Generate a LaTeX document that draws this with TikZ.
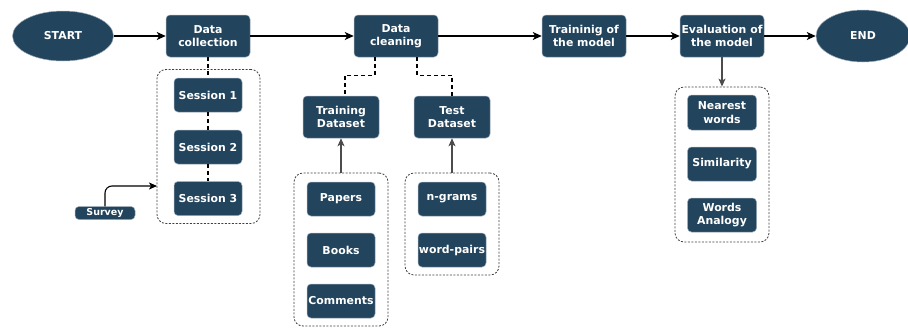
\documentclass[tikz,border=0pt]{standalone}
\usepackage{fontspec}
\setmainfont{DejaVu Sans}
\usetikzlibrary{shapes.geometric,arrows.meta,calc}
\definecolor{navy}{HTML}{23445D}
\definecolor{rim}{HTML}{9AAAB8}
\begin{document}
\begin{tikzpicture}[x=1pt,y=-1pt,
  txt/.style={font=\fontsize{10.9}{13.5}\selectfont\bfseries, text=white, align=center},
  box/.style={txt, rectangle, rounded corners=4pt, fill=navy, draw=rim, line width=0.5pt, inner sep=0pt},
  bigbox/.style={box, minimum width=84pt, minimum height=42pt},
  dsbox/.style={box, minimum width=76pt, minimum height=42pt},
  smbox/.style={box, minimum width=68pt, minimum height=34pt},
  oval/.style={txt, ellipse, fill=navy, draw=rim, line width=0.5pt, inner sep=0pt},
  grp/.style={draw=black!75, dashed, dash pattern=on 2pt off 1.5pt, line width=0.8pt, rounded corners=9pt, inner sep=0pt},
  flow/.style={-{Stealth[length=9pt,width=8pt,inset=2.5pt]}, line width=1.4pt, black},
  up/.style={-{Stealth[length=8pt,width=7pt,inset=2pt]}, line width=1.1pt, draw=black!70},
  dconn/.style={line width=1.5pt, dash pattern=on 4pt off 3pt, black}
]
\useasboundingbox (0,0) rectangle (908,327);
% main flow
\node[oval, minimum width=101pt, minimum height=50pt] (start) at (63,36) {START};
\node[bigbox] (coll) at (208,36) {Data\\collection};
\node[bigbox] (clean) at (396,36) {Data\\cleaning};
\node[bigbox] (train) at (584,36) {Traininig of\\the model};
\node[bigbox] (eval) at (722,36) {Evaluation of\\the model};
\node[oval, minimum width=94pt, minimum height=52pt] (end) at (863,36) {END};
\draw[flow] (start) -- (coll);
\draw[flow] (coll) -- (clean);
\draw[flow] (clean) -- (train);
\draw[flow] (train) -- (eval);
\draw[flow] (eval) -- (end);
% sessions
\node[grp, minimum width=103pt, minimum height=154pt] (sgrp) at (208.5,146.5) {};
\node[smbox] (s1) at (208,95) {Session 1};
\node[smbox] (s2) at (208,147) {Session 2};
\node[smbox] (s3) at (208,198.5) {Session 3};
\draw[dconn] (coll) -- (s1);
\draw[dconn] (s1) -- (s2);
\draw[dconn] (s2) -- (s3);
\node[box, minimum width=60pt, minimum height=13pt, font=\fontsize{9.5}{10}\selectfont\bfseries] (survey) at (105,213) {Survey};
\coordinate (sv) at (157,186);
\draw[-{Stealth[length=8pt,width=7pt,inset=2pt]}, line width=1.1pt, rounded corners=7pt] (survey.north) |- (sv);
% datasets
\node[dsbox] (trds) at (341,117) {Training\\Dataset};
\node[dsbox] (teds) at (452,117) {Test\\Dataset};
\draw[dconn] ([xshift=-21pt]clean.south) -- ++(0,18) -| ([xshift=4pt]trds.north);
\draw[dconn] ([xshift=21pt]clean.south) -- ++(0,18) -| (teds.north);
\node[grp, minimum width=94pt, minimum height=153pt] (trgrp) at (341,249.5) {};
\node[smbox] (pap) at (341,199) {Papers};
\node[smbox] (boo) at (341,250) {Books};
\node[smbox] (com) at (341,301) {Comments};
\node[grp, minimum width=94pt, minimum height=102pt] (tegrp) at (452,224) {};
\node[smbox] (ngr) at (452,199) {n-grams};
\node[smbox] (wpa) at (452,250) {word-pairs};
\draw[up] (trgrp.north) -- (trds.south);
\draw[up] (tegrp.north) -- (teds.south);
% evaluation
\node[grp, minimum width=94pt, minimum height=155pt] (evgrp) at (722,164.5) {};
\node[box, minimum width=69pt, minimum height=35pt] (near) at (722,112.5) {Nearest\\words};
\node[box, minimum width=69pt, minimum height=34pt] (sim) at (722,164) {Similarity};
\node[box, minimum width=69pt, minimum height=34pt] (ana) at (722,215) {Words\\Analogy};
\draw[up] (eval.south) -- (evgrp.north);
\end{tikzpicture}
\end{document}
